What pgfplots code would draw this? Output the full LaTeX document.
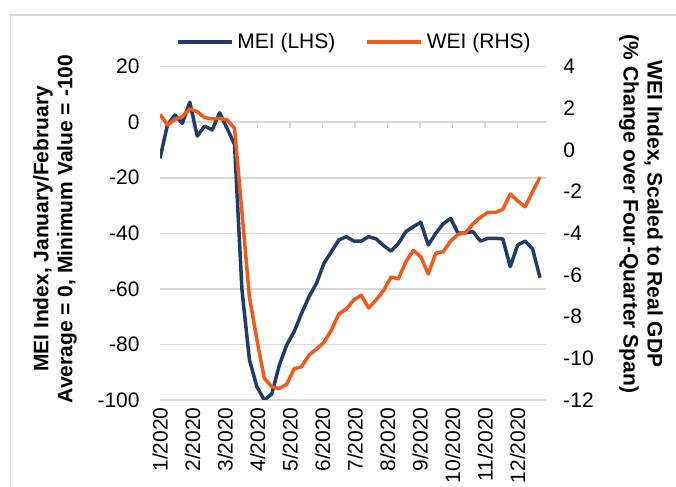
\documentclass[border=0pt]{standalone}
\usepackage{fontspec}
\setmainfont{Liberation Sans}
\usepackage{pgfplots}
\usepackage{pgfplotstable}
\pgfplotsset{compat=1.18}
\definecolor{meiblue}{RGB}{31,61,107}
\definecolor{weiorange}{RGB}{242,90,25}
\definecolor{gridgray}{RGB}{217,217,217}

\pgfplotstableread{
i mei wei
0 -13.0 1.71
1 -1.0 1.20
2 2.6 1.47
3 -0.4 1.60
4 7.2 1.97
5 -5.0 1.84
6 -1.4 1.55
7 -2.8 1.49
8 3.4 1.52
9 -2.2 1.44
10 -8.0 1.05
11 -60.4 -3.0
12 -85.5 -7.06
13 -95.2 -9.1
14 -100.0 -10.96
15 -97.8 -11.36
16 -87.6 -11.45
17 -80.2 -11.25
18 -75.4 -10.5
19 -68.8 -10.4
20 -62.8 -9.84
21 -58.0 -9.55
22 -50.8 -9.23
23 -46.6 -8.64
24 -42.4 -7.87
25 -41.2 -7.63
26 -42.8 -7.2
27 -42.8 -6.97
28 -41.2 -7.58
29 -42.0 -7.2
30 -44.4 -6.75
31 -46.4 -6.1
32 -43.6 -6.18
33 -39.4 -5.36
34 -37.6 -4.82
35 -36.0 -5.12
36 -44.2 -5.95
37 -40.0 -4.96
38 -36.6 -4.88
39 -34.6 -4.37
40 -40.0 -4.05
41 -39.8 -3.97
42 -39.4 -3.55
43 -42.8 -3.23
44 -41.8 -2.99
45 -41.8 -3.0
46 -42.0 -2.85
47 -52.0 -2.11
48 -44.2 -2.45
49 -42.8 -2.72
50 -45.6 -2.0
51 -56.0 -1.31
}\data

\begin{document}
\begin{tikzpicture}[x=0.5pt,y=0.5pt,font=\fontsize{10.5}{12.6}\selectfont]
\useasboundingbox (0,0) rectangle (676,487);
\draw[gridgray, line width=0.6pt] (10.5,-10) -- (10.5,472) -- (700,472);

\pgfplotsset{
  every axis/.append style={
    scale only axis, width=193pt, height=166.67pt,
    at={(80pt,43.5pt)}, anchor=south west,
    xmin=0, xmax=51.8,
    /pgf/number format/assume math mode=true,
    ticklabel style={font=\fontsize{10.5}{12.6}\selectfont},
  },
}
\def\monthticks{0,4.362,8.724,13.086,17.448,21.81,26.172,30.534,34.896,39.258,43.62,47.982}

% left axis
\begin{axis}[
  ymin=-100, ymax=20, ytick={-100,-80,...,20},
  axis line style={draw=none},
  xtick pos=bottom, ytick pos=left,
  major tick length=0pt,
  ymajorgrids, grid style={gridgray, line width=0.75pt},
  xtick/.expand once=\monthticks,
  xticklabels={1/2020,2/2020,3/2020,4/2020,5/2020,6/2020,7/2020,8/2020,9/2020,10/2020,11/2020,12/2020},
  xticklabel style={rotate=90, anchor=east, inner sep=0pt, xshift=-3.5pt},
  yticklabel style={anchor=east, inner sep=0pt, xshift=-10pt},
]
\pgfplotsinvokeforeach{0,4.362,8.724,13.086,17.448,21.81,26.172,30.534,34.896,39.258,43.62,47.982}{
  \draw[gridgray, line width=0.75pt] (axis cs:#1,0) -- ++(0pt,-3pt);
}
\addplot[meiblue, line width=1.75pt, line join=round] table[x=i,y=mei]{\data};
\end{axis}

% right axis
\begin{axis}[
  ymin=-12, ymax=4, ytick={-12,-10,...,4},
  hide x axis,
  axis y line*=right,
  y axis line style={draw=none},
  major tick length=0pt,
  yticklabel style={anchor=west, inner sep=0pt, xshift=8.5pt},
  legend columns=2,
  legend style={draw=none, fill=none, at={(0.506,1.074)}, anchor=center,
    font=\fontsize{10.5}{12.6}\selectfont,
    /tikz/every even column/.append style={column sep=13pt}},
  legend image code/.code={\draw[#1] (0pt,0pt) -- (27pt,0pt);},
]
\addlegendimage{meiblue, line width=1.75pt}
\addlegendentry{MEI (LHS)}
\addplot[weiorange, line width=1.75pt, line join=round] table[x=i,y=wei]{\data};
\addlegendentry{WEI (RHS)}
\end{axis}

\node[rotate=90, align=center, font=\bfseries\fontsize{10.5}{12}\selectfont] at (55,258)
  {MEI Index, January/February\\Average = 0, Minimum Value = -100};
\node[rotate=-90, align=center, font=\bfseries\fontsize{10.5}{12}\selectfont] at (641,273)
  {WEI Index, Scaled to Real GDP\\(\% Change over Four-Quarter Span)};
\end{tikzpicture}
\end{document}
